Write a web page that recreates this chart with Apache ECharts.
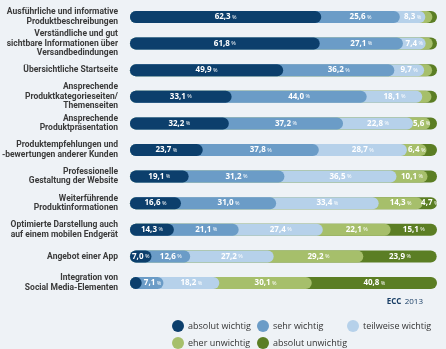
<!DOCTYPE html>
<html><head><meta charset="utf-8">
<script src="https://cdn.jsdelivr.net/npm/echarts@6/dist/echarts.min.js"></script>
<style>html,body{margin:0;padding:0;background:#eef2f6}#c{width:446px;height:349px}</style>
</head><body><div id="c"></div>
<script>
const categories = [
  "Ausführliche und informative\nProduktbeschreibungen",
  "Verständliche und gut\nsichtbare Informationen über\nVersandbedindungen",
  "Übersichtliche Startseite",
  "Ansprechende\nProduktkategorieseiten/\nThemenseiten",
  "Ansprechende\nProduktpräsentation",
  "Produktempfehlungen und\n-bewertungen anderer Kunden",
  "Professionelle\nGestaltung der Website",
  "Weiterführende\nProduktinformationen",
  "Optimierte Darstellung auch\nauf einem mobilen Endgerät",
  "Angebot einer App",
  "Integration von\nSocial Media-Elementen"
];
const seriesNames = ["absolut wichtig","sehr wichtig","teilweise wichtig","eher unwichtig","absolut unwichtig"];
const absolutWichtig   = [62.3, 61.8, 49.9, 33.1, 32.2, 23.7, 19.1, 16.6, 14.3, 7.0, 3.8];
const sehrWichtig      = [25.6, 27.1, 36.2, 44.0, 37.2, 37.8, 31.2, 31.0, 21.1, 12.6, 7.1];
const teilweiseWichtig = [8.3, 7.4, 9.7, 18.1, 22.8, 28.7, 36.5, 33.4, 27.4, 27.2, 18.2];
const eherUnwichtig    = [2.3, 2.3, 2.6, 3.0, 5.6, 6.4, 10.1, 14.3, 22.1, 29.2, 30.1];
const absolutUnwichtig = [1.5, 1.4, 1.6, 1.8, 2.2, 3.4, 3.1, 4.7, 15.1, 23.9, 40.8];
const colors = ["#0c3f6c","#6b9cc7","#b6d1ea","#a6bf6b","#5b7e24"];

const values = [absolutWichtig, sehrWichtig, teilweiseWichtig, eherUnwichtig, absolutUnwichtig];
const font = "'Open Sans', sans-serif";
const labelFont = "Roboto, sans-serif";
const series = [];
values.forEach((arr, i) => {
  const cum = arr.map((v, j) => {
    let s = 0; for (let k = 0; k <= i; k++) s += values[k][j]; return +s.toFixed(2);
  });
  series.push({
    name: seriesNames[i], type: 'bar', data: cum, barWidth: 12, barGap: '-100%',
    z: 10 - i, itemStyle: { color: colors[i], borderRadius: 6 }, silent: true
  });
});
values.forEach((arr, i) => {
  series.push({
    name: 'lbl' + i, type: 'bar', stack: 'lbl', data: arr, barWidth: 12, z: 20,
    itemStyle: { color: 'transparent' }, silent: true,
    label: {
      show: true, position: 'inside',
      formatter: p => p.value < 4.5 ? '' : '{v|' + p.value.toFixed(1).replace('.', ',') + '}{p| %}',
      rich: {
        v: { color: '#fff', fontSize: 8, fontWeight: 'bold', fontFamily: font },
        p: { color: '#fff', fontSize: 5.5, fontFamily: font }
      }
    }
  });
});
const legendPos = [[172, 320], [257, 320], [347, 320], [172, 337], [257, 337]];
const legends = seriesNames.map((n, i) => ({
  data: [n], left: legendPos[i][0], top: legendPos[i][1], icon: 'circle',
  itemWidth: 12, itemHeight: 12, itemGap: 5, padding: 0, selectedMode: false,
  textStyle: { fontSize: 9, color: '#333', fontFamily: font, padding: [0, 0, 0, -1] }
}));
const chart = echarts.init(document.getElementById('c'));
chart.setOption({
  backgroundColor: '#eef2f6',
  animation: false,
  grid: { left: 130, right: 9, top: 3.7, bottom: 52.7, outerBoundsMode: 'none', containLabel: false },
  xAxis: { type: 'value', min: 0, max: 100, show: false },
  yAxis: {
    type: 'category', data: categories, inverse: true,
    axisLine: { show: false }, axisTick: { show: false },
    axisLabel: { fontSize: 8.5, fontWeight: 'bold', color: '#3a3a3a', lineHeight: 9.5, margin: 12, fontFamily: labelFont }
  },
  legend: legends,
  graphic: [{
    type: 'text', right: 23, top: 296,
    style: { text: '{b|ECC} {n|2013}', rich: {
      b: { fontSize: 8, fontWeight: 'bold', fill: '#1a3f66', fontFamily: font },
      n: { fontSize: 8, fill: '#1a3f66', fontFamily: font } } }
  }],
  series: series
});
</script></body></html>
